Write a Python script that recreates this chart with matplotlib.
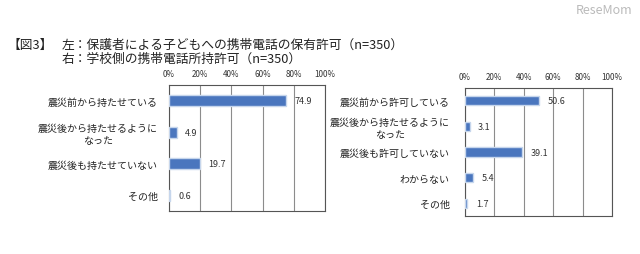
"""Figure 3: mobile phone permission survey, two horizontal bar panels."""

import matplotlib
matplotlib.use("Agg")
import matplotlib.pyplot as plt

plt.rcParams["font.family"] = ["Noto Sans CJK JP", "DejaVu Sans"]

# left panel: parents
left_labels = ["震災前から持たせている", "震災後から持たせるように\nなった",
               "震災後も持たせていない", "その他"]
left_values = [74.9, 4.9, 19.7, 0.6]

# right panel: schools
right_labels = ["震災前から許可している", "震災後から持たせるように\nなった",
                "震災後も許可していない", "わからない", "その他"]
right_values = [50.6, 3.1, 39.1, 5.4, 1.7]

ticks = [0, 20, 40, 60, 80, 100]
tick_labels = ["0%", "20%", "40%", "60%", "80%", "100%"]

BAR = "#4a76be"
W, H = 640, 255


def px_axes(fig, x0, y0, x1, y1):
    # pixel box (top-left origin) -> figure axes
    return fig.add_axes([x0 / W, 1 - y1 / H, (x1 - x0) / W, (y1 - y0) / H])


def panel(ax, labels, values, bar_h, pad):
    n = len(values)
    ys = list(range(n))
    ax.barh(ys, values, height=bar_h, color=BAR, edgecolor="#c6d6ec",
            linewidth=1.0, zorder=3)
    for y, v in zip(ys, values):
        ax.annotate(f"{v}", (v, y), xytext=(6, 0), textcoords="offset points",
                    va="center", ha="left", fontsize=6.5, color="#333333")
    ax.set_xlim(0, 100)
    ax.set_ylim(n - 0.5, -0.5)
    ax.set_xticks(ticks)
    ax.set_xticklabels(tick_labels)
    ax.xaxis.tick_top()
    ax.tick_params(axis="x", length=0, labelsize=5.8, pad=5, colors="#333333")
    ax.set_yticks(ys)
    ax.set_yticklabels(labels)
    for t in ax.get_yticklabels():
        t.set_multialignment("center")
    ax.tick_params(axis="y", length=0, labelsize=7.2, pad=pad, colors="#222222")
    ax.grid(axis="x", color="#8c8c8c", linewidth=0.8, zorder=0)
    for s in ax.spines.values():
        s.set_color("#555555")
        s.set_linewidth(0.8)


fig = plt.figure(figsize=(W / 100, H / 100), dpi=100)
fig.patch.set_facecolor("white")

ax_l = px_axes(fig, 169, 86, 325, 212)
panel(ax_l, left_labels, left_values, 0.34, 8)

ax_r = px_axes(fig, 465, 89, 612, 217)
panel(ax_r, right_labels, right_values, 0.36, 11)

fig.text(8 / W, 1 - 45 / H, "【図3】", fontsize=9.2, va="center", color="#222222")
fig.text(62 / W, 1 - 45 / H, "左：保護者による子どもへの携帯電話の保有許可（n=350）",
         fontsize=9.2, va="center", color="#222222")
fig.text(62 / W, 1 - 59 / H, "右：学校側の携帯電話所持許可（n=350）",
         fontsize=9.2, va="center", color="#222222")
fig.text(632 / W, 1 - 10 / H, "ReseMom", fontsize=9, ha="right", va="center",
         color="#bbbbbb")

fig.savefig("out.png", dpi=100, facecolor="white")
